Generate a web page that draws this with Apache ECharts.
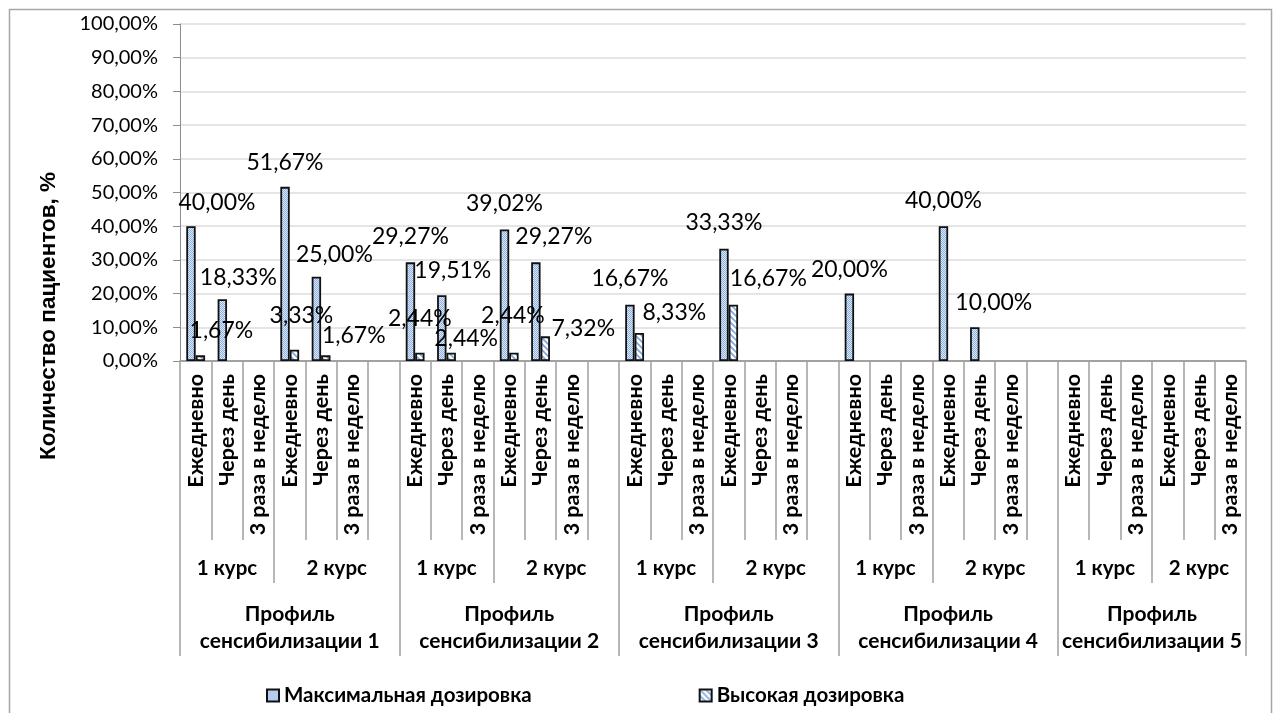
<!DOCTYPE html>
<html>
<head>
<meta charset="utf-8">
<script src="https://cdn.jsdelivr.net/npm/echarts@6/dist/echarts.min.js"></script>
<style>
  html, body { margin: 0; padding: 0; background: #ffffff; }
  #chart { width: 1278px; height: 713px; }
</style>
</head>
<body>
<div id="chart"></div>
<script>
// Hierarchy of the category axis
const profiles = ['Профиль\nсенсибилизации 1', 'Профиль\nсенсибилизации 2', 'Профиль\nсенсибилизации 3',
                  'Профиль\nсенсибилизации 4', 'Профиль\nсенсибилизации 5'];
const courses = ['1 курс', '2 курс'];
const frequencies = ['Ежедневно', 'Через день', '3 раза в неделю'];

// Share of patients per profile → course → frequency (null = no patients)
const maxDose = [
  0.4000, 0.1833, null,   0.5167, 0.2500, null,
  0.2927, 0.1951, null,   0.3902, 0.2927, null,
  0.1667, null,   null,   0.3333, null,   null,
  0.2000, null,   null,   0.4000, 0.1000, null,
  null,   null,   null,   null,   null,   null
];
const highDose = [
  0.0167, null,   null,   0.0333, 0.0167, null,
  0.0244, 0.0244, null,   0.0244, 0.0732, null,
  0.0833, null,   null,   0.1667, null,   null,
  null,   null,   null,   null,   null,   null,
  null,   null,   null,   null,   null,   null
];
const seriesNames = ['Максимальная дозировка', 'Высокая дозировка'];

// Hand-placed value labels: [dx, dy] shifts keyed by data index
const maxLabelShift = { 0: [26, 1], 1: [16, 3], 3: [0, 0], 4: [18, 2], 6: [0, -1], 7: [11, 0],
  9: [0, -1], 10: [18, -1], 12: [0, -2], 15: [0, -2], 18: [0, 0], 21: [0, -1], 22: [19, 0] };
const highLabelShift = { 0: [21, 0], 3: [7, -10], 4: [28, 5], 6: [0, -10], 7: [15, 10],
  9: [-1, -13], 10: [38, 17], 12: [35, 4], 15: [35, -2] };

const FONT = 'Lato, "Noto Sans", sans-serif';
const TITLE_FONT = '"Liberation Sans", Arial, sans-serif';
const perCourse = frequencies.length;
const perProfile = courses.length * perCourse;

// Build slot list: every profile but the last is followed by an empty spacer slot
const slotLabels = [];
const slotSource = [];   // index into the data arrays, or -1 for a spacer
profiles.forEach((p, pi) => {
  for (let k = 0; k < perProfile; k++) {
    slotLabels.push(frequencies[k % perCourse]);
    slotSource.push(pi * perProfile + k);
  }
  if (pi < profiles.length - 1) { slotLabels.push(''); slotSource.push(-1); }
});
const nSlots = slotLabels.length;

// Half-slot grid (boundaryGap off) used by the course and profile levels
const halfCount = nSlots * 2 + 1;
const courseLabelAt = {};
const courseTicks = new Set();
const profileLabelAt = {};
const profileTicks = new Set();
let slot = 0;
profiles.forEach((p, pi) => {
  const start = slot;
  profileTicks.add(start * 2);
  courses.forEach((c, ci) => {
    const cStart = slot;
    let width = perCourse;
    if (ci === courses.length - 1 && pi < profiles.length - 1) width += 1;
    courseTicks.add(cStart * 2);
    courseLabelAt[cStart * 2 + width] = c;
    slot += width;
  });
  profileLabelAt[start + slot] = p;
});
courseTicks.add(nSlots * 2);
profileTicks.add(nSlots * 2);
const halfData = Array.from({ length: halfCount }, (_, i) => String(i));

function pct(v) { return (v * 100).toFixed(2).replace('.', ',') + '%'; }

function dotPattern() {
  const c = document.createElement('canvas');
  c.width = 2; c.height = 2;
  const g = c.getContext('2d');
  g.fillStyle = '#dce8f7'; g.fillRect(0, 0, 2, 2);
  g.fillStyle = '#8db2e2'; g.fillRect(0, 0, 1, 1); g.fillRect(1, 1, 1, 1);
  return c;
}
function stripePattern() {
  const c = document.createElement('canvas');
  c.width = 6; c.height = 6;
  const g = c.getContext('2d');
  g.fillStyle = '#ffffff'; g.fillRect(0, 0, 6, 6);
  g.strokeStyle = '#7ea6dc'; g.lineWidth = 1.6;
  g.beginPath();
  g.moveTo(-1, -1); g.lineTo(7, 7);
  g.moveTo(-4, 2); g.lineTo(4, 10);
  g.moveTo(2, -4); g.lineTo(10, 4);
  g.stroke();
  return c;
}

function buildSeriesData(values, shifts) {
  return slotSource.map(src => {
    if (src < 0 || values[src] == null) return null;
    const item = { value: values[src] };
    const s = shifts[src];
    if (s) item.label = { offset: s };
    return item;
  });
}

const labelStyle = {
  show: true, position: 'top', distance: 13,
  fontFamily: FONT, fontSize: 23, color: '#000000',
  formatter: p => pct(p.value)
};

const chart = echarts.init(document.getElementById('chart'), null, { renderer: 'canvas' });
chart.setOption({
  backgroundColor: '#ffffff',
  animation: false,
  grid: { left: 180, right: 32, top: 24, bottom: 352, containLabel: false },
  legend: {
    left: 261, top: 680,
    itemWidth: 12, itemHeight: 12, itemGap: 167,
    icon: 'rect',
    textStyle: { fontFamily: FONT, fontWeight: 'bold', fontSize: 20.5, color: '#000000' },
    data: seriesNames
  },
  yAxis: {
    type: 'value', min: 0, max: 1, interval: 0.1,
    axisLine: { show: true, lineStyle: { color: '#8c8c8c', width: 1 } },
    axisTick: { show: true, length: 7, lineStyle: { color: '#8c8c8c' } },
    splitLine: { show: true, lineStyle: { color: '#dcdcdc', width: 1.5 } },
    axisLabel: { fontFamily: FONT, fontSize: 20, color: '#000000', margin: 22, formatter: v => pct(v) }
  },
  xAxis: [
    {
      type: 'category', data: slotLabels,
      axisLine: { show: true, lineStyle: { color: '#8c8c8c', width: 1.5 } },
      axisTick: { show: true, interval: 0, length: 179, lineStyle: { color: '#a0a0a0', width: 1.5 } },
      axisLabel: { interval: 0, rotate: 90, margin: 13, fontFamily: FONT, fontWeight: 'bold', fontSize: 21.5, color: '#000000' }
    },
    {
      type: 'category', data: halfData, boundaryGap: false, position: 'bottom',
      axisLine: { show: false },
      axisTick: { show: true, length: 222, interval: i => courseTicks.has(i), lineStyle: { color: '#a0a0a0', width: 1.5 } },
      axisLabel: {
        margin: 197, interval: i => courseLabelAt[i] !== undefined,
        formatter: (v, i) => courseLabelAt[i] || '',
        fontFamily: FONT, fontWeight: 'bold', fontSize: 20.5, color: '#000000'
      }
    },
    {
      type: 'category', data: halfData, boundaryGap: false, position: 'bottom',
      axisLine: { show: false },
      axisTick: { show: true, length: 295, interval: i => profileTicks.has(i), lineStyle: { color: '#a0a0a0', width: 1.5 } },
      axisLabel: {
        margin: 240, interval: i => profileLabelAt[i] !== undefined,
        formatter: (v, i) => profileLabelAt[i] || '',
        fontFamily: FONT, fontWeight: 'bold', fontSize: 21, lineHeight: 27, color: '#000000'
      }
    }
  ],
  series: [
    {
      name: seriesNames[0], type: 'bar', xAxisIndex: 0,
      barCategoryGap: '40%', barGap: '0%',
      itemStyle: { color: { image: dotPattern(), repeat: 'repeat' }, borderColor: '#111111', borderWidth: 1.8 },
      label: labelStyle,
      data: buildSeriesData(maxDose, maxLabelShift)
    },
    {
      name: seriesNames[1], type: 'bar', xAxisIndex: 0,
      barCategoryGap: '40%', barGap: '0%',
      itemStyle: { color: { image: stripePattern(), repeat: 'repeat' }, borderColor: '#111111', borderWidth: 1.8 },
      label: labelStyle,
      data: buildSeriesData(highDose, highLabelShift)
    }
  ],
  graphic: [
    {
      type: 'rect', silent: true, z: -1,
      shape: { x: 9.5, y: 9.5, width: 1262, height: 720 },
      style: { fill: null, stroke: '#a6a6a6', lineWidth: 1.5 }
    },
    {
      type: 'text', x: 48.5, y: 316, rotation: Math.PI / 2,
      style: {
        text: 'Количество пациентов, %', fontFamily: TITLE_FONT, fontWeight: 'bold', fontSize: 22.5,
        fill: '#000000', textAlign: 'center', textVerticalAlign: 'middle'
      }
    }
  ]
});
</script>
</body>
</html>
